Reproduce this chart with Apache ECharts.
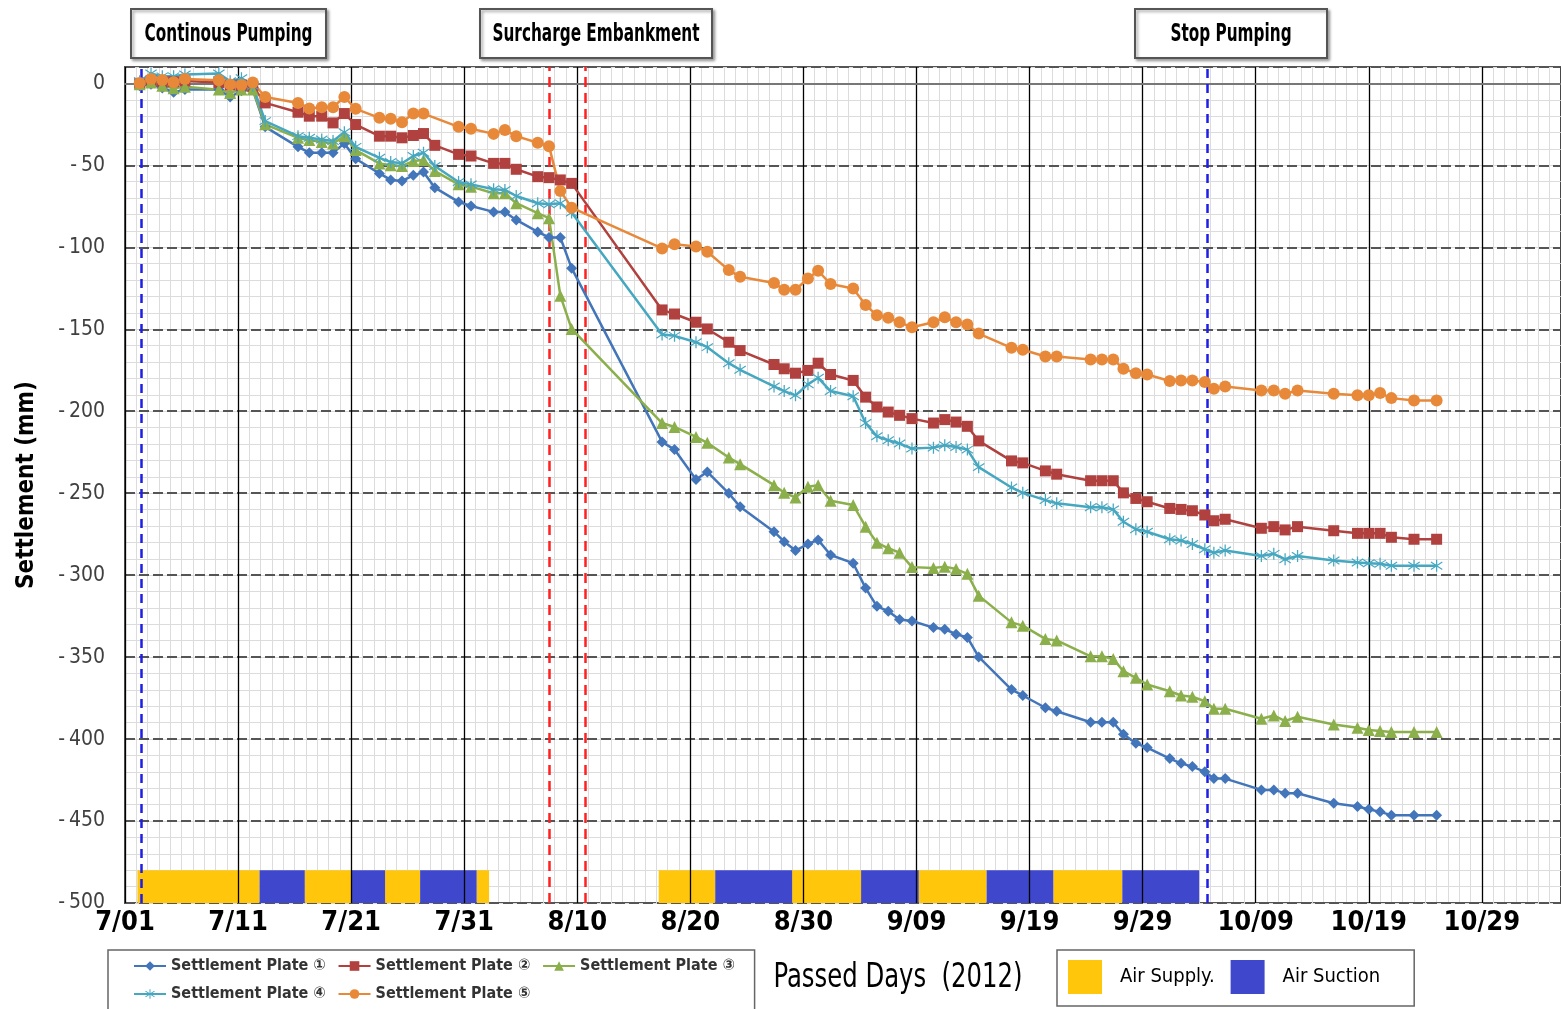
<!DOCTYPE html>
<html><head><meta charset="utf-8">
<script src="https://cdn.jsdelivr.net/npm/echarts@6/dist/echarts.min.js"></script>
<style>html,body{margin:0;padding:0;background:#fff;} #c{width:1561px;height:1009px;}</style>
</head><body><div id="c"></div>
<script>
const days = [1.3,2.3,3.3,4.3,5.3,8.3,9.3,10.3,11.3,12.4,15.3,16.3,17.4,18.4,19.4,20.4,22.5,23.5,24.5,25.5,26.4,27.4,29.5,30.6,32.6,33.6,34.6,36.5,37.5,38.5,39.5,47.5,48.6,50.5,51.5,53.4,54.4,57.4,58.3,59.3,60.4,61.3,62.4,64.4,65.5,66.5,67.5,68.5,69.6,71.5,72.5,73.5,74.5,75.5,78.4,79.4,81.4,82.4,85.4,86.4,87.4,88.3,89.4,90.4,92.4,93.4,94.4,95.5,96.3,97.3,100.5,101.6,102.6,103.7,106.9,109.0,110.0,111.0,112.0,114.0,116.0];

const plate1 = [-1.4,-0.5,-2.8,-5.4,-3.8,-3.8,-8.3,-4.5,-3.8,-26.5,-38.7,-42.3,-42.3,-42.3,-36.6,-46,-54.9,-58.9,-59.5,-56.1,-54.1,-63.6,-72.3,-74.8,-78.4,-78.4,-83.3,-90.6,-94,-94,-112.7,-218.7,-223.4,-241.6,-237,-250.1,-258.3,-273.5,-279.6,-285,-281,-278.5,-287.7,-292.7,-307.9,-319,-322,-327,-328,-332,-333,-336,-338,-349.9,-369.8,-373.4,-380.9,-383,-389.7,-389.7,-389.7,-397.1,-402.6,-405.2,-411.9,-414.8,-416.8,-420,-424.1,-424.1,-431,-431,-433,-433,-439.1,-441.1,-442.8,-444.4,-446.4,-446.4,-446.4];
const plate2 = [0,1.5,1,1,1.5,0.5,-1,-1,-2,-11.9,-17.6,-20,-20,-24.1,-18.4,-25.1,-32.2,-32.2,-33.2,-31.8,-30.6,-37.8,-43.3,-44.3,-48.8,-48.8,-52.4,-56.9,-57.5,-58.9,-61,-138.2,-140.7,-145.7,-149.8,-157.9,-163,-171.5,-174.1,-176.8,-175.1,-170.7,-177.6,-181.2,-191.4,-197.4,-200.5,-202.5,-204.5,-207.2,-205.1,-206.6,-209.2,-218.1,-230.3,-231.5,-236.4,-238.4,-242.4,-242.4,-242.4,-249.8,-253.2,-255.2,-259.3,-259.9,-260.7,-263.3,-266.8,-265.9,-271.4,-270.4,-272.4,-270.4,-272.9,-274.5,-274.5,-274.5,-276.9,-278.1,-278.1];
const plate3 = [-0.5,0.5,-1.4,-3,-2,-3.8,-5.8,-3.8,-3.8,-25,-33.2,-34.6,-35.8,-36.7,-32.2,-40.7,-48.8,-50,-50.4,-47.4,-46.8,-53.5,-61.6,-63,-67,-67,-73.1,-79.2,-82.2,-129.5,-149.8,-207.2,-209.6,-215.7,-219.3,-228.2,-232.3,-245.1,-249.8,-252.6,-246.1,-245.1,-254.6,-257.2,-270.4,-280.2,-283.6,-286.3,-295.1,-295.7,-294.8,-296.3,-299.2,-312.5,-328.8,-330.8,-338.9,-339.8,-349.5,-349.5,-351.1,-358.6,-362.6,-366.7,-370.8,-373.4,-374.2,-376.9,-381.5,-381.5,-387.6,-385.6,-389,-386.4,-391.1,-393.1,-394.5,-395.1,-395.7,-395.7,-395.7];
const plate4 = [1.3,6,4.3,4.3,5.5,6,1.3,3.2,-1.4,-23,-32.2,-33.2,-34.2,-35.2,-29.8,-38.7,-45.4,-48,-48.7,-44.3,-42.3,-50.4,-60.2,-61.6,-64.6,-65,-68.7,-73.1,-73.7,-73.1,-78.8,-153.2,-154,-157.9,-160.9,-170.7,-174.7,-184.9,-187.7,-190.3,-183.6,-179.6,-187.7,-190.9,-207.2,-215.3,-217.7,-219.7,-222.8,-222.2,-220.7,-221.8,-223.4,-234.1,-246.5,-249.8,-254.2,-256.2,-258.6,-258.6,-259.9,-267.4,-272,-273.5,-278.1,-278.9,-281,-284.2,-286.3,-285,-288.3,-287,-290.3,-288.3,-291.1,-292.3,-292.7,-293.1,-294.3,-294.3,-294.3];
const plate5 = [0.2,2.7,2,0.7,2.7,1.9,-0.7,-1,0.6,-8.3,-11.9,-15.3,-14.5,-14.5,-8.3,-15.5,-21,-21.6,-23.7,-18.4,-18.4,null,-26.5,-27.7,-30.8,-28.5,-32.2,-36.2,-38.3,-65.6,-75.8,-100.7,-98.1,-99.5,-102.7,-113.9,-118,-121.8,-125.9,-125.9,-119,-114.3,-122.4,-125.1,-135.2,-141.5,-143,-145.7,-148.8,-145.7,-142.7,-145.7,-147.1,-152.6,-161.3,-162.5,-166.6,-166.6,-168.4,-168.4,-168.4,-174.1,-176.8,-177.6,-181.6,-181.2,-181.2,-182.2,-186.3,-184.9,-187.3,-187.3,-189.3,-187.3,-189.3,-190.3,-190.3,-188.9,-192,-193.4,-193.4];

// x tick labels (every 10 days from 7/01)
const tickDates = ['7/01','7/11','7/21','7/31','8/10','8/20','8/30','9/09','9/19','9/29','10/09','10/19','10/29'];

// Air supply / suction periods [start day, end day]
const airSupply = [[1.1,11.9],[15.9,20.0],[23.0,26.1],[31.1,32.2],[47.2,52.2],[59.0,65.1],[70.2,76.2],[82.1,88.2]];
const airSuction = [[11.9,15.9],[20.0,23.0],[26.1,31.1],[52.2,59.0],[65.1,70.2],[76.2,82.1],[88.2,95.0]];

// event lines (days)
const pumpLines = [1.4, 95.7];
const embankLines = [37.5, 40.7];

const seriesNames = ['Settlement Plate \u2460','Settlement Plate \u2461','Settlement Plate \u2462','Settlement Plate \u2463','Settlement Plate \u2464'];

const NARROW = "'Liberation Sans Narrow','DejaVu Sans Condensed','Arial Narrow',sans-serif";
const XMAX = 127;
const BAR_TOP = -480;

const chart = echarts.init(document.getElementById('c'));

function lineSeries(name, vals, color, symbol, size) {
  return {
    name, type: 'line', xAxisIndex: 1, yAxisIndex: 1,
    data: days.map((d, i) => [d, vals[i]]),
    connectNulls: true, symbol, symbolSize: size,
    lineStyle: { width: 2.5, color }, itemStyle: { color },
    z: 5, animation: false
  };
}
function barSeries(name, data, color) {
  return {
    name, type: 'custom', xAxisIndex: 1, yAxisIndex: 1,
    data, encode: { x: [0, 1] }, itemStyle: { color }, z: 2, animation: false,
    renderItem: (params, api) => {
      const p0 = api.coord([api.value(0), BAR_TOP]);
      const p1 = api.coord([api.value(1), -500]);
      return { type: 'rect', shape: { x: p0[0], y: p0[1], width: p1[0] - p0[0], height: p1[1] - p0[1] }, style: api.style() };
    }
  };
}
const starPath = 'path://M9,0H11V20H9Z M0.5,4.6L1.5,3L19.5,15.4L18.5,17Z M0.5,15.4L18.5,3L19.5,4.6L1.5,17Z';

const s1 = lineSeries(seriesNames[0], plate1, '#4275B9', 'diamond', 11);
s1.markLine = {
  silent: true, symbol: 'none', label: { show: false }, animation: false,
  data: pumpLines.map(v => ({ xAxis: v, lineStyle: { color: '#1E1EE6', type: [9, 6], width: 2.5 } }))
    .concat(embankLines.map(v => ({ xAxis: v, lineStyle: { color: '#FF2020', type: [10, 6], width: 2.5 } })))
};

function box(x, y, w, h, text) {
  return [
    { type: 'rect', shape: { x, y, width: w, height: h }, style: { fill: '#fff', stroke: '#555', lineWidth: 2, shadowBlur: 3, shadowOffsetX: 2, shadowOffsetY: 2, shadowColor: 'rgba(0,0,0,0.35)' } },
    { type: 'text', x: x + w / 2, y: y + h / 2 + 1, scaleX: 0.68, style: { text, align: 'center', verticalAlign: 'middle', fill: '#000', fontSize: 25, fontFamily: NARROW, fontWeight: 'bold' } }
  ];
}

const option = {
  animation: false,
  backgroundColor: '#fff',
  grid: { left: 125, right: 0, top: 67, bottom: 106, show: true, borderColor: '#555', borderWidth: 2, containLabel: false },
  xAxis: [
    { type: 'value', min: 0, max: XMAX, interval: 1, position: 'bottom', z: 0,
      axisLine: { show: false }, axisTick: { show: false }, axisLabel: { show: false },
      splitLine: { show: true, lineStyle: { color: '#dcdcdc', width: 1 } } },
    { type: 'value', min: 0, max: XMAX, interval: 10, position: 'bottom', z: 3,
      axisLine: { show: true, lineStyle: { color: '#777', width: 2 } }, axisTick: { show: false },
      axisLabel: { show: true, showMaxLabel: false, margin: 6, color: '#000', fontSize: 27, fontWeight: 'bold', fontFamily: NARROW,
        formatter: v => tickDates[Math.round(v / 10)] || '' },
      splitLine: { show: true, lineStyle: { color: '#000', width: 1.3 } } }
  ],
  yAxis: [
    { type: 'value', min: -500, max: 10, interval: 10, position: 'left', z: 0,
      axisLine: { show: false }, axisTick: { show: false }, axisLabel: { show: false },
      splitLine: { show: true, lineStyle: { color: '#dcdcdc', width: 1 } } },
    { type: 'value', min: -500, max: 10, interval: 50, position: 'left', z: 1,
      name: 'Settlement (mm)', nameLocation: 'middle', nameGap: 86, nameRotate: 90,
      nameTextStyle: { color: '#000', fontSize: 24, fontWeight: 'bold', fontFamily: NARROW },
      axisLine: { show: true, lineStyle: { color: '#555', width: 2 } }, axisTick: { show: false },
      axisLabel: { showMaxLabel: false, margin: 20, color: '#404040', fontSize: 21, fontFamily: NARROW,
        formatter: v => v < 0 ? '-\u2009' + Math.abs(v) : String(v) },
      splitLine: { show: true, lineStyle: { color: '#555', width: 2, type: [10, 4] } } }
  ],
  legend: [
    { data: seriesNames, left: 108, top: 950, orient: 'horizontal', width: 640,
      padding: [8, 20, 14, 25], itemGap: 12, itemWidth: 32, itemHeight: 12,
      borderColor: '#666', borderWidth: 1.5,
      textStyle: { color: '#333', fontSize: 16, fontWeight: 'bold', fontFamily: NARROW, width: 160 } },
    { data: ['Air Supply.', 'Air Suction'], left: 1057, top: 950, orient: 'horizontal', icon: 'rect',
      padding: [10, 34, 12, 11], itemGap: 16, itemWidth: 34, itemHeight: 34,
      borderColor: '#666', borderWidth: 1.5,
      textStyle: { color: '#000', fontSize: 20, fontFamily: NARROW, padding: [0, 0, 0, 13] } }
  ],
  graphic: [
    ...box(131, 9, 195, 49, 'Continous Pumping'),
    ...box(480, 9, 232, 49, 'Surcharge Embankment'),
    ...box(1135, 9, 192, 49, 'Stop Pumping'),
    { type: 'text', x: 898, y: 978, scaleX: 0.82, style: { text: 'Passed Days  (2012)', align: 'center', verticalAlign: 'middle', fill: '#000', fontSize: 33, fontFamily: NARROW } }
  ],
  series: [
    s1,
    lineSeries(seriesNames[1], plate2, '#B0413E', 'rect', 11),
    lineSeries(seriesNames[2], plate3, '#8BAF4A', 'triangle', 12),
    lineSeries(seriesNames[3], plate4, '#46A7C0', starPath, 12),
    lineSeries(seriesNames[4], plate5, '#E8893A', 'circle', 12),
    barSeries('Air Supply.', airSupply, '#FFC60B'),
    barSeries('Air Suction', airSuction, '#3F48CC')
  ]
};
chart.setOption(option);
</script></body></html>
